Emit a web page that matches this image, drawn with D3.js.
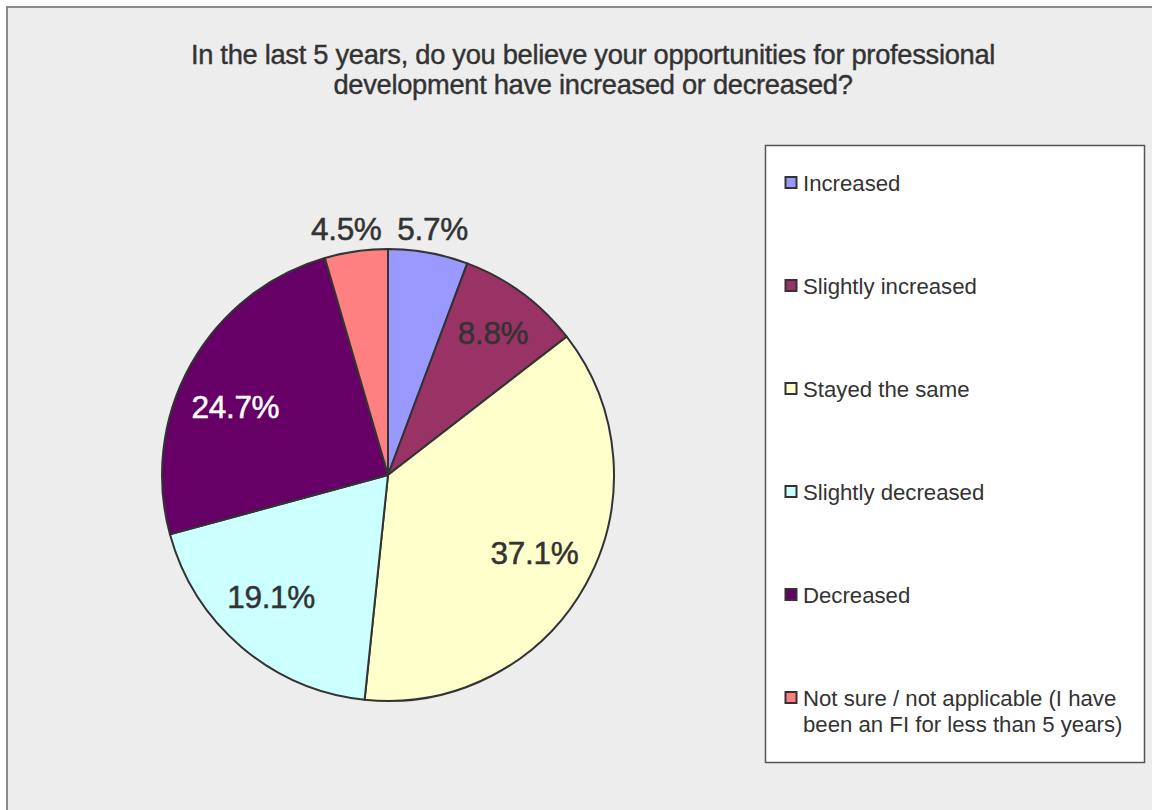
<!DOCTYPE html>
<html>
<head>
<meta charset="utf-8">
<script src="https://cdn.jsdelivr.net/npm/d3@7"></script>
<style>
  html, body { margin: 0; padding: 0; background: #ffffff; }
  svg { display: block; }
  text { font-family: "Liberation Sans", Arial, Helvetica, sans-serif; fill: #333333; }
</style>
</head>
<body>
<svg id="chart" width="1152" height="810"></svg>
<script>
// Survey answers, clockwise from 12 o'clock
const categories = [
  "Increased",
  "Slightly increased",
  "Stayed the same",
  "Slightly decreased",
  "Decreased",
  "Not sure / not applicable (I have been an FI for less than 5 years)"
];
const percentages = [5.7, 8.8, 37.1, 19.1, 24.7, 4.5];
const sliceColors = ["#9999FF", "#993366", "#FFFFCC", "#CCFFFF", "#660066", "#FF8080"];
const labelColors = ["#333333", "#333333", "#333333", "#333333", "#ffffff", "#333333"];
const legendLines = [
  ["Increased"],
  ["Slightly increased"],
  ["Stayed the same"],
  ["Slightly decreased"],
  ["Decreased"],
  ["Not sure / not applicable (I have", "been an FI for less than 5 years)"]
];
const titleLines = [
  "In the last 5 years, do you believe your opportunities for professional",
  "development have increased or decreased?"
];

const svg = d3.select("#chart");

// Chart area frame
svg.append("rect")
  .attr("x", 7).attr("y", 7)
  .attr("width", 1160).attr("height", 820)
  .attr("fill", "#EDEDED")
  .attr("stroke", "#8a8a8a")
  .attr("stroke-width", 2);

// Title
const title = svg.append("text")
  .attr("text-anchor", "middle")
  .attr("font-size", 27.3)
  .attr("letter-spacing", -0.3)
  .style("stroke", "#333333").style("stroke-width", 0.4);
titleLines.forEach((t, i) => {
  title.append("tspan").attr("x", 593).attr("y", 64 + i * 30).text(t);
});

// Pie
const cx = 388, cy = 475, r = 226;
const data = categories.map((c, i) => ({ name: c, value: percentages[i], i }));
const pie = d3.pie().value(d => d.value).sort(null);
const arcs = pie(data);
const arc = d3.arc().innerRadius(0).outerRadius(r);

const g = svg.append("g").attr("transform", `translate(${cx},${cy})`);
g.selectAll("path")
  .data(arcs)
  .join("path")
  .attr("d", arc)
  .attr("fill", d => sliceColors[d.data.i])
  .attr("stroke", "#333333")
  .attr("stroke-width", 2)
  .attr("stroke-linejoin", "round");

// Value labels: inside for large slices, outside for the thin ones
const labelRadius = [250, 177, 166, 169, 167, 250];
const labelNudgeDeg = [0, 0, -1, 3.4, -5.3, -1.5];
g.selectAll("text.val")
  .data(arcs)
  .join("text")
  .attr("class", "val")
  .attr("text-anchor", "middle")
  .attr("dominant-baseline", "central")
  .attr("font-size", 31.5)
  .attr("letter-spacing", -0.3)
  .style("fill", d => labelColors[d.data.i])
  .style("stroke", d => labelColors[d.data.i])
  .style("stroke-width", 0.5)
  .attr("transform", d => {
    const a = (d.startAngle + d.endAngle) / 2 + labelNudgeDeg[d.data.i] * Math.PI / 180;
    const lr = labelRadius[d.data.i];
    return `translate(${lr * Math.sin(a)},${-lr * Math.cos(a)})`;
  })
  .text(d => d.data.value.toFixed(1) + "%");

// Legend
svg.append("rect")
  .attr("x", 765.5).attr("y", 145.5)
  .attr("width", 379).attr("height", 617)
  .attr("fill", "#ffffff")
  .attr("stroke", "#555555")
  .attr("stroke-width", 1.5);

const legend = svg.append("g");
const items = legend.selectAll("g.item")
  .data(categories)
  .join("g")
  .attr("class", "item")
  .attr("transform", (d, i) => `translate(785,${183 + i * 103})`);
items.append("rect")
  .attr("x", 0.5).attr("y", -6)
  .attr("width", 11).attr("height", 11)
  .attr("fill", (d, i) => sliceColors[i])
  .attr("stroke", "#333333")
  .attr("stroke-width", 2);
items.append("text")
  .attr("x", 18)
  .attr("font-size", 22.2)
  .attr("dominant-baseline", "central")
  .each(function (d, i) {
    const t = d3.select(this);
    legendLines[i].forEach((line, j) => {
      t.append("tspan").attr("x", 18).attr("dy", j === 0 ? 0 : 26).text(line);
    });
  });
</script>
</body>
</html>
